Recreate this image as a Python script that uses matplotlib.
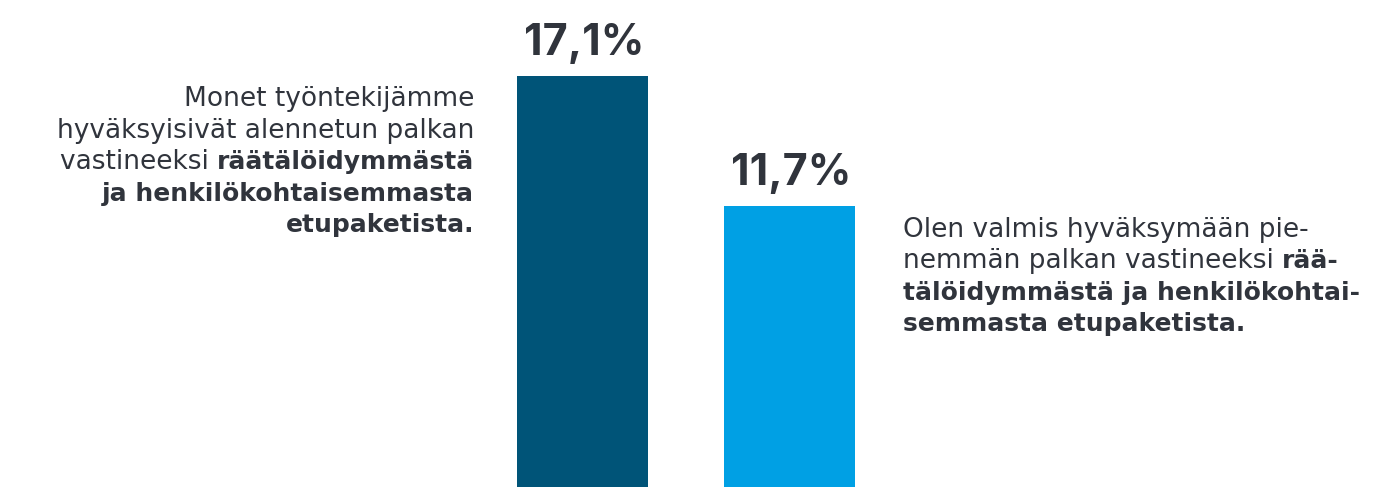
import matplotlib.pyplot as plt

values = [17.1, 11.7]
value_labels = ['17,1%', '11,7%']
bar_colors = ['#005478', '#00a0e4']

# text lines: list of (text, bold) segments
left_lines = [
    [('Monet työntekijämme', False)],
    [('hyväksyisivät alennetun palkan', False)],
    [('vastineeksi ', False), ('räätälöidymmästä', True)],
    [('ja henkilökohtaisemmasta', True)],
    [('etupaketista.', True)],
]
right_lines = [
    [('Olen valmis hyväksymään pie-', False)],
    [('nemmän palkan vastineeksi ', False), ('rää-', True)],
    [('tälöidymmästä ja henkilökohtai-', True)],
    [('semmasta etupaketista.', True)],
]

W, H = 1373, 487
text_color = '#30343c'
body_font = ['DejaVu Sans']
plt.rcParams['font.family'] = ['Inter', 'DejaVu Sans']

fig = plt.figure(figsize=(W / 100, H / 100), dpi=100)
ax = fig.add_axes([0, 0, 1, 1])
px_per_unit = (487 - 76) / 17.1
ax.set_ylim(0, H / px_per_unit)
ax.set_xlim(-582.5 / 207, (W - 582.5) / 207)
ax.axis('off')

xs = list(range(len(values)))
ax.bar(xs, values, width=131 / 207, color=bar_colors)
for x, v, lab in zip(xs, values, value_labels):
    ax.annotate(lab, (x, v), xytext=(2, 21), textcoords='offset pixels',
                ha='center', va='baseline', fontsize=31, fontweight='bold',
                color=text_color)

renderer = fig.canvas.get_renderer()


def draw_line(x_px, y_px, segs, align):
    texts = []
    for s, b in segs:
        t = fig.text(0, 0, s, fontsize=18 if b else 19, color=text_color, family=body_font,
                     fontweight='bold' if b else 'normal', va='baseline', ha='left')
        texts.append(t)
    widths = [t.get_window_extent(renderer).width for t in texts]
    total = sum(widths)
    x = x_px - total if align == 'right' else x_px
    for t, w in zip(texts, widths):
        t.set_position((x / W, 1 - y_px / H))
        x += w


for i, segs in enumerate(left_lines):
    draw_line(474, 106 + i * 31.5, segs, 'right')
for i, segs in enumerate(right_lines):
    draw_line(903, 237 + i * 31.5, segs, 'left')

fig.savefig('out.png', dpi=100)
